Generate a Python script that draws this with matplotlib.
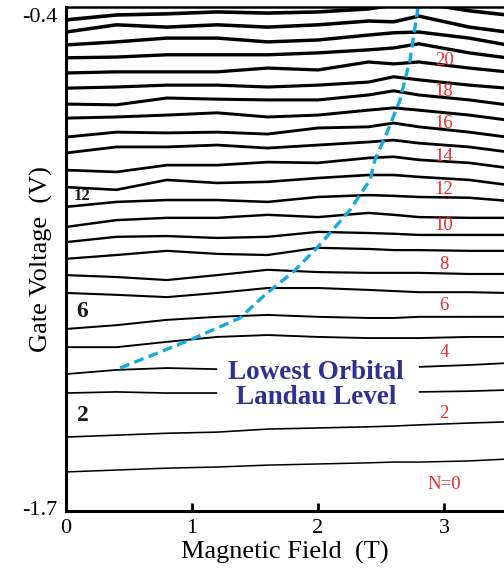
import numpy as np
import matplotlib
matplotlib.use("Agg")
import matplotlib.pyplot as plt

plt.rcParams['font.family'] = 'serif'
plt.rcParams['font.serif'] = ['Liberation Serif', 'DejaVu Serif']

# magnetic field sample points (T)
field = [0, 0.4, 0.8, 1.2, 1.6, 2.0, 2.4, 2.6, 2.8, 3.2, 3.5]
nan = np.nan
# gate voltage of each sweep (V), top to bottom
gate_traces = [
    [-0.413, -0.400, -0.397, -0.392, -0.395, -0.392, -0.384, -0.374, -0.368, -0.389, -0.400],
    [-0.445, -0.426, -0.432, -0.426, -0.432, -0.426, -0.416, -0.418, -0.403, -0.432, -0.445],
    [-0.479, -0.471, -0.461, -0.461, -0.471, -0.466, -0.453, -0.447, -0.445, -0.461, -0.479],
    [-0.513, -0.511, -0.505, -0.505, -0.505, -0.500, -0.492, -0.487, -0.476, -0.500, -0.513],
    [-0.553, -0.550, -0.550, -0.550, -0.540, -0.545, -0.524, -0.529, -0.524, -0.540, -0.550],
    [-0.593, -0.590, -0.585, -0.585, -0.590, -0.585, -0.577, -0.563, -0.571, -0.585, -0.593],
    [-0.635, -0.637, -0.619, -0.622, -0.624, -0.624, -0.611, -0.600, -0.611, -0.624, -0.637],
    [-0.672, -0.669, -0.664, -0.658, -0.669, -0.664, -0.651, -0.645, -0.651, -0.664, -0.677],
    [-0.722, -0.709, -0.711, -0.709, -0.714, -0.698, -0.695, -0.685, -0.695, -0.709, -0.722],
    [-0.764, -0.748, -0.748, -0.743, -0.751, -0.743, -0.735, -0.730, -0.738, -0.748, -0.761],
    [-0.809, -0.814, -0.796, -0.796, -0.788, -0.790, -0.777, -0.774, -0.782, -0.790, -0.803],
    [-0.854, -0.861, -0.835, -0.843, -0.840, -0.830, -0.822, -0.822, -0.827, -0.835, -0.848],
    [-0.906, -0.893, -0.888, -0.888, -0.893, -0.880, -0.875, -0.877, -0.880, -0.882, -0.890],
    [-0.959, -0.941, -0.935, -0.935, -0.927, -0.933, -0.922, -0.927, -0.933, -0.935, -0.935],
    [-0.999, -0.985, -0.983, -0.988, -0.985, -0.972, -0.975, -0.977, -0.980, -0.980, -0.980],
    [-1.043, -1.033, -1.022, -1.030, -1.033, -1.014, -1.017, -1.020, -1.020, -1.022, -1.022],
    [-1.086, -1.091, -1.099, -1.086, -1.072, -1.078, -1.080, -1.080, -1.080, -1.083, -1.083],
    [-1.133, -1.138, -1.144, -1.133, -1.120, -1.120, -1.125, -1.128, -1.131, -1.131, -1.133],
    [-1.228, -1.218, -1.204, -1.196, -1.191, -1.196, -1.199, -1.199, -1.196, -1.196, -1.196],
    [-1.276, -1.276, -1.262, -1.249, -1.244, -1.249, -1.252, -1.252, -1.252, -1.249, -1.249],
    [-1.347, -1.336, -1.331, -1.334, nan, nan, nan, nan, -1.328, -1.323, -1.318],
    [-1.397, -1.394, -1.397, -1.397, nan, nan, nan, nan, -1.394, -1.392, -1.389],
    [-1.513, -1.508, -1.503, -1.500, -1.492, -1.489, -1.486, -1.484, -1.481, -1.476, -1.473],
    [-1.605, -1.600, -1.595, -1.592, -1.587, -1.584, -1.581, -1.579, -1.579, -1.576, -1.571],
]

# lowest orbital Landau level (dashed)
ll_field = [0.429, 0.984, 1.381, 1.595, 1.802, 1.992, 2.095, 2.254, 2.413, 2.452, 2.556, 2.651, 2.730, 2.794]
ll_gate = [-1.331, -1.257, -1.199, -1.133, -1.078, -1.014, -0.975, -0.914, -0.835, -0.782, -0.703, -0.624, -0.519, -0.379]

# filling factor labels on the right
nu_text = ['20', '18', '16', '14', '12', '10', '8', '6', '4', '2', 'N=0']
nu_gate = [-0.521, -0.603, -0.687, -0.774, -0.861, -0.956, -1.057, -1.167, -1.289, -1.450, -1.639]
# bold labels on the left
left_text = ['12', '6', '2']
left_gate = [-0.877, -1.183, -1.455]
left_size = [12, 17, 17]

fig = plt.figure(figsize=(5.04, 5.74), dpi=100)
ax = fig.add_axes([66/504, 63/574, 438/504, 504/574])

lws = np.linspace(2.6, 1.1, len(gate_traces))
for tr, lw in zip(gate_traces, lws):
    ax.plot(field, tr, color='black', lw=lw, solid_capstyle='butt')

ax.plot(ll_field, ll_gate, color='#17a9e1', lw=2.4, dashes=(3, 1.6))

for t, v in zip(nu_text, nu_gate):
    ax.text(3.0, v, t, color='#ee2b2f', fontsize=13.5, ha='center', va='center')
for t, v, s in zip(left_text, left_gate, left_size):
    ax.text(0.13, v, t, color='#1a1a1a', fontsize=s, fontweight='bold', ha='center', va='center')

ax.text(1.984, -1.376, 'Lowest Orbital\nLandau Level', color='#2e3192', fontsize=19.5,
        fontweight='bold', ha='center', va='center', linespacing=1.0)

ax.set_xlim(0, 3.476)
ax.set_ylim(-1.708, -0.379)
ax.set_xticks([0, 1, 2, 3])
ax.set_yticks([-1.7, -0.4])
ax.set_yticklabels(['-1.7', '-0.4'])
ax.tick_params(axis='x', direction='in', length=6, width=2, labelsize=16, pad=6)
ax.tick_params(axis='y', length=0, labelsize=16, pad=6)
for s in ['left', 'bottom']:
    ax.spines[s].set_linewidth(2.2)
ax.spines['top'].set_linewidth(1.8)
ax.spines['right'].set_visible(False)

ax.set_xlabel('Magnetic Field  (T)', fontsize=19, labelpad=2)
ax.set_ylabel('Gate Voltage  (V)', fontsize=19)
ax.yaxis.set_label_coords(-0.03, 0.5)

fig.savefig('out.png', dpi=100)
